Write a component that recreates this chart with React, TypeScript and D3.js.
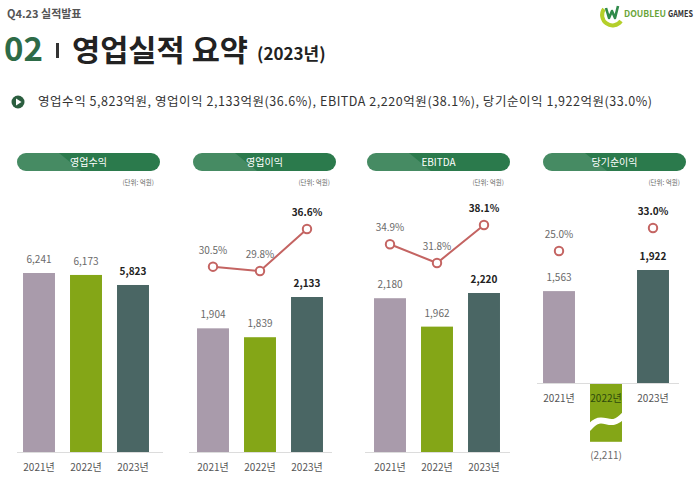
import React from 'react';
import * as d3 from 'd3';

const YEARS = ['2021년', '2022년', '2023년'];
const PANEL_TITLES = ['영업수익', '영업이익', 'EBITDA', '당기순이익'];
const REVENUE = [6241, 6173, 5823];
const OP_PROFIT = [1904, 1839, 2133];
const OP_MARGIN = [30.5, 29.8, 36.6];
const EBITDA = [2180, 1962, 2220];
const EBITDA_MARGIN = [34.9, 31.8, 38.1];
const NET_INCOME = [1563, -2211, 1922];
const NET_MARGIN: (number | null)[] = [25.0, null, 33.0];
const SUMMARY =
  '영업수익 5,823억원, 영업이익 2,133억원(36.6%), EBITDA 2,220억원(38.1%), 당기순이익 1,922억원(33.0%)';

const FONT = '"Noto Sans CJK KR", "Noto Sans", sans-serif';
const BAR_COLORS = ['#a99bab', '#84a617', '#4a6664'];
const LINE_COLOR = '#c46462';
const PILL_COLOR = '#2b7a4c';

type Panel = {
  title: string;
  values: number[];
  margins: (number | null)[] | null;
  pillX: number;
  bandX: number;
  axis: [number, number];
  baseY: number;
  floor: number;
  topY: number;
  marginRange?: [number, number];
  connect: boolean;
  breakAt?: number;
};

const panels: Panel[] = [
  { title: PANEL_TITLES[0], values: REVENUE, margins: null, pillX: 17, bandX: 15.5, axis: [17, 163], baseY: 452, floor: 0, topY: 273, connect: false },
  { title: PANEL_TITLES[1], values: OP_PROFIT, margins: OP_MARGIN, pillX: 193, bandX: 189.5, axis: [189, 332], baseY: 452, floor: 1000, topY: 297, marginRange: [271, 229], connect: true },
  { title: PANEL_TITLES[2], values: EBITDA, margins: EBITDA_MARGIN, pillX: 367, bandX: 366.5, axis: [365, 510], baseY: 452, floor: 1000, topY: 293, marginRange: [263, 225], connect: true },
  { title: PANEL_TITLES[3], values: NET_INCOME, margins: NET_MARGIN, pillX: 543, bandX: 535.5, axis: [537, 679], baseY: 383, floor: 0, topY: 270, marginRange: [251, 228], connect: false, breakAt: -1000 },
];

const fmtNum = d3.format(',');
const fmtPct = (v: number) => `${d3.format('.1f')(v)}%`;
const fmtVal = (v: number) => (v < 0 ? `(${fmtNum(-v)})` : fmtNum(v));

function ChartPanel({ p, idx }: { p: Panel; idx: number }) {
  const x = d3.scaleBand<string>().domain(YEARS).range([p.bandX, p.bandX + 141]).paddingInner(0.32).paddingOuter(0.16);
  const maxV = d3.max(p.values) ?? 1;
  const y = d3.scaleLinear().domain([p.floor, maxV]).range([p.baseY, p.topY]);
  const bw = x.bandwidth();
  const cx = (i: number) => (x(YEARS[i]) ?? 0) + bw / 2;

  const marginPts: { i: number; v: number }[] = [];
  (p.margins || []).forEach((v, i) => {
    if (v != null) marginPts.push({ i, v });
  });
  const m = d3
    .scaleLinear()
    .domain(d3.extent(marginPts, (d) => d.v) as [number, number])
    .range(p.marginRange ?? [0, 0]);
  const line = d3
    .line<{ i: number; v: number }>()
    .x((d) => cx(d.i))
    .y((d) => m(d.v));

  const clipId = `pill-clip-${idx}`;
  const pillW = 143;

  return (
    <g>
      <defs>
        <clipPath id={clipId}>
          <rect x={p.pillX} y={153} width={pillW} height={18} rx={9} />
        </clipPath>
      </defs>
      <rect x={p.pillX} y={153} width={pillW} height={18} rx={9} fill={PILL_COLOR} />
      <polygon
        clipPath={`url(#${clipId})`}
        points={`${p.pillX},153 ${p.pillX + 42},153 ${p.pillX + 64},171 ${p.pillX},171`}
        fill="#ffffff"
        opacity={0.13}
      />
      <text x={p.pillX + pillW / 2} y={166} textAnchor="middle" fontSize={10} fill="#fff" fontFamily={FONT}>
        {p.title}
      </text>
      <text x={p.pillX + pillW - 6} y={185} textAnchor="end" fontSize={6.5} fill="#666" fontFamily={FONT}>
        (단위: 억원)
      </text>

      <line x1={p.axis[0]} x2={p.axis[1]} y1={p.baseY + 0.5} y2={p.baseY + 0.5} stroke="#dcdcdc" strokeWidth={1} />

      {p.values.map((v, i) => {
        const bx = x(YEARS[i]) ?? 0;
        if (v >= 0) {
          const top = y(v);
          const last = i === p.values.length - 1;
          return (
            <g key={i}>
              <rect x={bx} y={top} width={bw} height={y(p.floor) - top} fill={BAR_COLORS[i]} />
              <text
                x={cx(i)}
                y={top - 10}
                textAnchor="middle"
                fontSize={10}
                fontWeight={last ? 700 : 400}
                fill={last ? '#222' : '#6a6a6a'}
                fontFamily={FONT}
              >
                {fmtVal(v)}
              </text>
            </g>
          );
        }
        // negative bar, cut short with a wave break
        const bottom = y(Math.max(v, p.breakAt ?? v));
        const b0 = p.baseY + 1;
        const waveTop = b0 + (bottom - b0) * 0.5;
        const x0 = bx - 2;
        const x1 = bx + bw + 2;
        return (
          <g key={i}>
            <rect x={bx} y={b0} width={bw} height={bottom - b0} fill={BAR_COLORS[i]} />
            <path
              d={`M${x0},${waveTop + 16} C${bx + bw * 0.45},${waveTop - 4} ${bx + bw * 0.55},${waveTop + 20} ${x1},${waveTop + 2}`}
              fill="none"
              stroke="#fff"
              strokeWidth={6}
            />
            <text x={cx(i)} y={bottom + 17} textAnchor="middle" fontSize={10} fill="#6a6a6a" fontFamily={FONT}>
              {fmtVal(v)}
            </text>
          </g>
        );
      })}

      {YEARS.map((yr, i) => (
        <text
          key={yr}
          x={cx(i)}
          y={p.baseY + 19}
          textAnchor="middle"
          fontSize={10}
          fill={p.values[i] < 0 ? '#2f4a0c' : '#555'}
          fontFamily={FONT}
        >
          {yr}
        </text>
      ))}

      {p.connect && marginPts.length > 1 && (
        <path d={line(marginPts) ?? ''} fill="none" stroke={LINE_COLOR} strokeWidth={2} />
      )}
      {marginPts.map((d) => {
        const last = d.i === YEARS.length - 1;
        return (
          <g key={d.i}>
            <circle cx={cx(d.i)} cy={m(d.v)} r={4.2} fill="#fff" stroke={LINE_COLOR} strokeWidth={2} />
            <text
              x={cx(d.i)}
              y={m(d.v) - 13}
              textAnchor="middle"
              fontSize={10}
              fontWeight={last ? 700 : 400}
              fill={last ? '#222' : '#6a6a6a'}
              fontFamily={FONT}
            >
              {fmtPct(d.v)}
            </text>
          </g>
        );
      })}
    </g>
  );
}

export default function App() {
  return (
    <svg
      width={700}
      height={500}
      viewBox="0 0 700 500"
      style={{ position: 'absolute', left: 0, top: 0, background: '#fff' }}
      fontFamily={FONT}
    >
      <rect width={700} height={500} fill="#fff" />

      {/* header */}
      <text x={7} y={18} fontSize={11} fontWeight={700} fill="#555">
        Q4.23 실적발표
      </text>
      <text x={4} y={61} fontSize={33} fontWeight={700} fill="#2d6b47">
        02
      </text>
      <rect x={56} y={43} width={3} height={15} fill="#333" />
      <text x={72} y={61} fontSize={30} fontWeight={700} fill="#222" textLength={176} lengthAdjust="spacingAndGlyphs">
        영업실적 요약
      </text>
      <text x={257} y={60} fontSize={17} fontWeight={700} fill="#222">
        (2023년)
      </text>

      {/* logo */}
      <g>
        <path d="M604,9 A10,10 0 0 0 621,21" fill="none" stroke="#b4cf2a" strokeWidth={4} />
        <path d="M606,8 L609,18 L612,11 L615,18 L618,6" fill="none" stroke="#2f8a4a" strokeWidth={2.6} strokeLinejoin="round" />
        <text x={624} y={16.5} fontSize={9} fontWeight={700} fill="#6aa53a" textLength={42} lengthAdjust="spacingAndGlyphs">
          DOUBLEU
        </text>
        <text x={668} y={16.5} fontSize={9} fontWeight={700} fill="#333" textLength={25} lengthAdjust="spacingAndGlyphs">
          GAMES
        </text>
      </g>

      {/* summary line */}
      <circle cx={18} cy={102} r={6.5} fill="#2b5e3f" />
      <polygon points="16,98.5 16,105.5 21.5,102" fill="#fff" />
      <text x={38} y={106} fontSize={12.5} fill="#333" textLength={614} lengthAdjust="spacing">
        {SUMMARY}
      </text>

      {panels.map((p, i) => (
        <ChartPanel key={p.title} p={p} idx={i} />
      ))}
    </svg>
  );
}
